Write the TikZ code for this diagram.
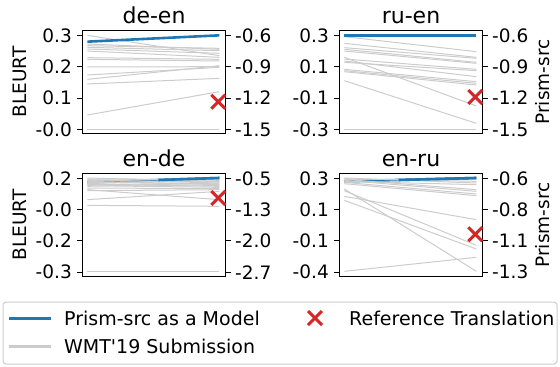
\documentclass[tikz,border=0pt]{standalone}
\usepackage{fontspec}
\newfontfamily\dv{DejaVu Sans}
\begin{document}
\begin{tikzpicture}[x=1pt,y=-1pt,
  font=\dv\fontsize{18.5}{22}\selectfont,
  gline/.style={draw=lgray,line width=1pt},
  bline/.style={draw=mblue,line width=2.6pt},
  axbox/.style={draw=black,line width=1.1pt},
  tick/.style={draw=black,line width=1.1pt},
  ltl/.style={anchor=east,inner sep=0pt},
  rtl/.style={anchor=west,inner sep=0pt},
  ttl/.style={anchor=base,inner sep=0pt,font=\dv\fontsize{22}{26}\selectfont},
  lgt/.style={anchor=west,inner sep=0pt,font=\dv\fontsize{19}{23}\selectfont},
  xm/.style={draw=mred,line width=3pt}]
\definecolor{lgray}{HTML}{CCCCCC}
\definecolor{mblue}{HTML}{1F77B4}
\definecolor{mred}{HTML}{D62728}
\useasboundingbox (0,0) rectangle (560,367);
\newcommand\xmk[2]{\draw[xm] (#1-7,#2-7) -- (#1+7,#2+7) (#1-7,#2+7) -- (#1+7,#2-7);}
\newcommand\axes[6]{%
  \draw[axbox] (#1,#2) rectangle ++(143.4,102.6);
  \foreach \t in {#3,#4,#5,#6}{
    \draw[tick] (#1-5,\t) -- (#1,\t);
    \draw[tick] (#1+143.4,\t) -- (#1+148.4,\t);}
}
% ---------- panel 1: de-en
\begin{scope}[shift={(75,25)},scale=1/3]
\foreach \a/\b in {31/92,57/73,62/70,67/77,72/85,78/97,98/103,103/108,126/125,150/127,163/122,177/160,270/200,313/313}
  \draw[gline] (37,\a) -- (433,\b);
\draw[bline] (37,50) -- (433,31);
\end{scope}
\axes{82.3}{30.8}{35.5}{66.8}{98.1}{129.4}
\xmk{218.3}{101.7}
\node[ttl] (t1) at (154,23) {de-en};
\node[ltl] (l1a) at (72,35.5) {0.3};
\node[ltl] (l1b) at (72,66.8) {0.2};
\node[ltl] (l1c) at (72,98.1) {0.1};
\node[ltl] (l1d) at (72,129.4) {-0.0};
\node[rtl] (r1a) at (235,35.5) {-0.6};
\node[rtl] (r1b) at (235,66.8) {-0.9};
\node[rtl] (r1c) at (235,98.1) {-1.2};
\node[rtl] (r1d) at (235,129.4) {-1.5};
\node[rotate=90,inner sep=0pt] (yl1) at (20,82) {BLEURT};
% ---------- panel 2: ru-en
\begin{scope}[shift={(332,25)},scale=1/3]
\foreach \a/\b in {35/80,55/97,68/100,73/112,78/115,97/243,102/133,108/155,112/137,133/170,137/175,140/180,167/295,313/313}
  \draw[gline] (37,\a) -- (433,\b);
\draw[bline] (37,32) -- (433,32);
\end{scope}
\axes{339.3}{30.8}{35.5}{66.8}{98.1}{129.4}
\xmk{475.3}{97}
\node[ttl] (t2) at (411,23) {ru-en};
\node[ltl] (l2a) at (329,35.5) {0.3};
\node[ltl] (l2b) at (329,66.8) {0.1};
\node[ltl] (l2c) at (329,98.1) {-0.1};
\node[ltl] (l2d) at (329,129.4) {-0.3};
\node[rtl] (r2a) at (492,35.5) {-0.6};
\node[rtl] (r2b) at (492,66.8) {-0.9};
\node[rtl] (r2c) at (492,98.1) {-1.2};
\node[rtl] (r2d) at (492,129.4) {-1.5};
\node[rotate=90,inner sep=0pt] (yl2) at (543,82) {Prism-src};
% ---------- panel 3: en-de
\begin{scope}[shift={(75,168)},scale=1/3]
\draw[bline] (37,43) -- (433,30);
\foreach \a/\b in {30/40,33/35,35/45,38/42,40/50,43/48,46/38,48/55,50/52,53/58,55/45,60/62,65/95,68/65,95/70,112/115,310/310}
  \draw[gline] (37,\a) -- (433,\b);
\draw[draw=mblue,line width=2.6pt] (250,36) -- (433,30);
\end{scope}
\axes{82.3}{173.6}{178.3}{209.6}{240.9}{272.2}
\xmk{218.3}{198}
\node[ttl] (t3) at (154,166) {en-de};
\node[ltl] (l3a) at (72,178.3) {0.2};
\node[ltl] (l3b) at (72,209.6) {-0.0};
\node[ltl] (l3c) at (72,240.9) {-0.2};
\node[ltl] (l3d) at (72,272.2) {-0.3};
\node[rtl] (r3a) at (235,178.3) {-0.5};
\node[rtl] (r3b) at (235,209.6) {-1.3};
\node[rtl] (r3c) at (235,240.9) {-2.0};
\node[rtl] (r3d) at (235,272.2) {-2.7};
\node[rotate=90,inner sep=0pt] (yl3) at (20,225) {BLEURT};
% ---------- panel 4: en-ru
\begin{scope}[shift={(332,168)},scale=1/3]
\draw[bline] (37,40) -- (433,30);
\foreach \a/\b in {30/45,32/40,34/65,37/70,40/50,43/78,47/83,63/310,68/232,85/155,97/243,310/268}
  \draw[gline] (37,\a) -- (433,\b);
\draw[draw=mblue,line width=2.6pt] (200,36) -- (433,30);
\end{scope}
\axes{339.3}{173.6}{178.3}{209.6}{240.9}{272.2}
\xmk{475.3}{234.3}
\node[ttl] (t4) at (411,166) {en-ru};
\node[ltl] (l4a) at (329,178.3) {0.3};
\node[ltl] (l4b) at (329,209.6) {0.1};
\node[ltl] (l4c) at (329,240.9) {-0.1};
\node[ltl] (l4d) at (329,272.2) {-0.4};
\node[rtl] (r4a) at (492,178.3) {-0.6};
\node[rtl] (r4b) at (492,209.6) {-0.8};
\node[rtl] (r4c) at (492,240.9) {-1.1};
\node[rtl] (r4d) at (492,272.2) {-1.3};
\node[rotate=90,inner sep=0pt] (yl4) at (543,225) {Prism-src};
% ---------- legend
\draw[draw=lgray,line width=1pt,rounded corners=3pt] (3,302) rectangle (557,364);
\draw[draw=mblue,line width=3pt] (9,318) -- (51,318);
\draw[draw=lgray,line width=3pt] (9,346) -- (51,346);
\node[lgt] (lg1) at (64,318) {Prism-src as a Model};
\node[lgt] (lg2) at (64,346) {WMT'19 Submission};
\xmk{315}{318}
\node[lgt] (lg3) at (349,318) {Reference Translation};
\end{tikzpicture}
\end{document}
